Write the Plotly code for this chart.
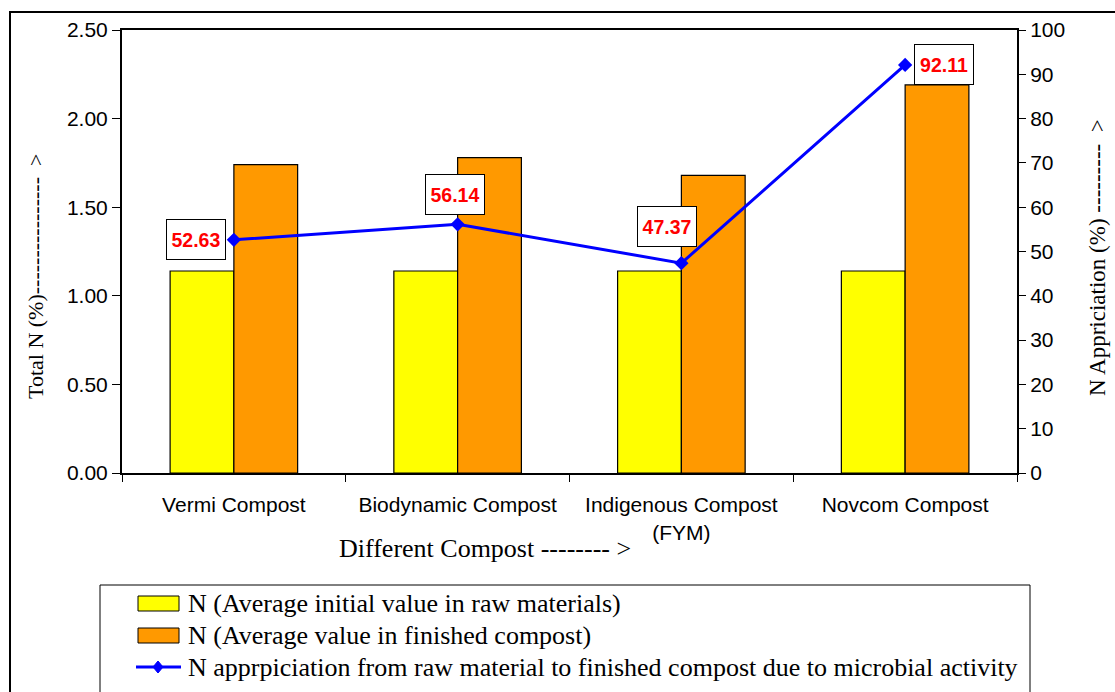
import plotly.graph_objects as go

# Compost types and nitrogen measurements
categories = ["Vermi Compost", "Biodynamic Compost", "Indigenous Compost<br>(FYM)", "Novcom Compost"]
initial_n = [1.14, 1.14, 1.14, 1.14]          # Total N (%) in raw materials
finished_n = [1.74, 1.78, 1.68, 2.19]         # Total N (%) in finished compost
appreciation = [52.63, 56.14, 47.37, 92.11]   # N appreciation (%)

series_names = [
    "N (Average initial value in raw materials)",
    "N (Average value in finished compost)",
    "N apprpiciation from raw material to finished compost due to microbial activity",
]
bar_colors = ["#FFFF00", "#FF9900"]
line_color = "#0000FF"

# Label offsets (pixels) for the value boxes on the line
label_xshift = [-38, -3, -14, 39]
label_yshift = [0, 30, 37, 0]

serif = "Liberation Serif, Times New Roman, serif"
sans = "Liberation Sans, Arial, sans-serif"

# Plot-area geometry in pixels, used to place the hand-drawn legend and titles
W, H = 1115, 692
ML, MR, MT, MB = 122, 98, 30, 219
PW, PH = W - ML - MR, H - MT - MB


def px(x):
    return (x - ML) / PW


def py(y):
    return (H - MB - y) / PH


fig = go.Figure()

fig.add_trace(go.Bar(
    x=categories, y=initial_n, name=series_names[0],
    marker=dict(color=bar_colors[0], line=dict(color="#000000", width=1.2)),
))
fig.add_trace(go.Bar(
    x=categories, y=finished_n, name=series_names[1],
    marker=dict(color=bar_colors[1], line=dict(color="#000000", width=1.2)),
))
fig.add_trace(go.Scatter(
    x=categories, y=appreciation, yaxis="y2", name=series_names[2],
    mode="lines+markers",
    line=dict(color=line_color, width=3),
    marker=dict(symbol="diamond", size=11, color=line_color),
))

annotations = []
for cat, val, dx, dy in zip(categories, appreciation, label_xshift, label_yshift):
    annotations.append(dict(
        x=cat, y=val, xref="x", yref="y2",
        text=f"<b>{val:.2f}</b>", showarrow=False,
        font=dict(family=sans, size=19.5, color="#FF0000"),
        bgcolor="#FFFFFF", bordercolor="#000000", borderwidth=1,
        borderpad=4, width=50, height=31,
        xshift=dx, yshift=dy,
    ))

# Axis titles
annotations += [
    dict(x=px(485), y=py(548), xref="paper", yref="paper",
         text="Different Compost -------- >", showarrow=False,
         font=dict(family=serif, size=26, color="#000000"),
         xanchor="center", yanchor="middle"),
    dict(x=px(35), y=py(277), xref="paper", yref="paper",
         text="Total N (%)----------------  >", showarrow=False, textangle=-90,
         font=dict(family=serif, size=22, color="#000000"),
         xanchor="center", yanchor="middle"),
    dict(x=px(1097), y=py(258), xref="paper", yref="paper",
         text="N Appriciation (%) ---------  >", showarrow=False, textangle=-90,
         font=dict(family=serif, size=23, color="#000000"),
         xanchor="center", yanchor="middle"),
]

# Legend entries
legend_rows = [603, 635, 667]
for name, row in zip(series_names, legend_rows):
    annotations.append(dict(
        x=px(186), y=py(row), xref="paper", yref="paper",
        text=name, showarrow=False,
        font=dict(family=serif, size=26, color="#000000"),
        xanchor="left", yanchor="middle",
    ))

shapes = [
    # outer chart frame
    dict(type="rect", xref="paper", yref="paper",
         x0=px(10), x1=px(1125), y0=py(705), y1=py(12),
         line=dict(color="#000000", width=2), fillcolor="rgba(0,0,0,0)", layer="below"),
    # legend frame
    dict(type="rect", xref="paper", yref="paper",
         x0=px(100), x1=px(1030), y0=py(705), y1=py(585),
         line=dict(color="#000000", width=1), fillcolor="#FFFFFF", layer="above"),
]
for color, row in zip(bar_colors, legend_rows[:2]):
    shapes.append(dict(
        type="rect", xref="paper", yref="paper",
        x0=px(138), x1=px(179), y0=py(row + 8), y1=py(row - 7),
        line=dict(color="#000000", width=1), fillcolor=color, layer="above",
    ))
shapes.append(dict(
    type="line", xref="paper", yref="paper",
    x0=px(136), x1=px(181), y0=py(legend_rows[2]), y1=py(legend_rows[2]),
    line=dict(color=line_color, width=3), layer="above",
))
shapes.append(dict(
    type="path", xref="paper", yref="paper",
    xsizemode="pixel", ysizemode="pixel",
    xanchor=px(158), yanchor=py(legend_rows[2]),
    path="M0,-6 L5,0 L0,6 L-5,0 Z",
    line=dict(color=line_color, width=1), fillcolor=line_color, layer="above",
))

fig.update_layout(
    width=W, height=H,
    margin=dict(l=ML, r=MR, t=MT, b=MB, autoexpand=False),
    paper_bgcolor="#FFFFFF", plot_bgcolor="#FFFFFF",
    barmode="group", bargap=0.43, bargroupgap=0,
    showlegend=False,
    xaxis=dict(
        type="category", showline=True, linecolor="#000000", linewidth=2,
        mirror=True, ticks="outside", ticklen=7, tickcolor="#000000",
        tickson="boundaries", showgrid=False, ticklabelstandoff=12,
        tickfont=dict(family=sans, size=21, color="#000000"),
    ),
    yaxis=dict(
        range=[0, 2.5], dtick=0.5, tickformat=".2f",
        showline=True, linecolor="#000000", linewidth=2,
        ticks="outside", ticklen=8, tickcolor="#000000", showgrid=False,
        zeroline=False,
        tickfont=dict(family=sans, size=21, color="#000000"),
    ),
    yaxis2=dict(
        range=[0, 100], dtick=10, overlaying="y", side="right",
        showline=True, linecolor="#000000", linewidth=2,
        ticks="outside", ticklen=7, tickcolor="#000000", showgrid=False,
        zeroline=False,
        tickfont=dict(family=sans, size=21, color="#000000"),
    ),
    annotations=annotations,
    shapes=shapes,
)

fig.write_html("out.html")
